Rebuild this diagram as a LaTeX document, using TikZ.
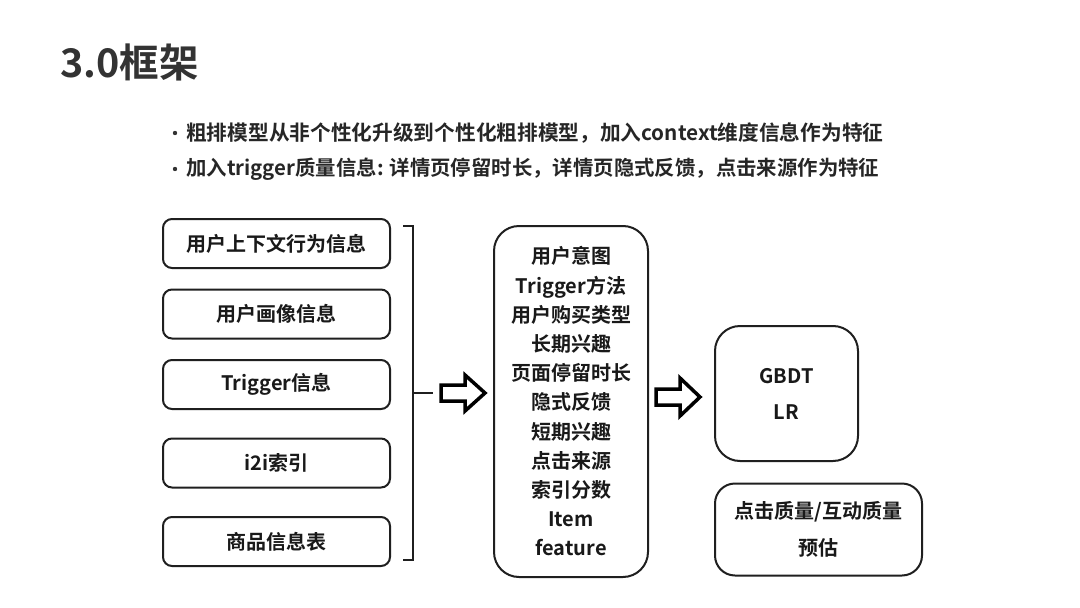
\documentclass[tikz,border=0pt]{standalone}
\usepackage{fontspec}
\setmainfont{Noto Sans CJK SC}[BoldFont=* Bold]
\begin{document}
\begin{tikzpicture}[x=1pt,y=-1pt,
  box/.style={draw=black!88, line width=2pt, rounded corners=9pt, minimum width=227pt, minimum height=49pt, inner sep=0pt, font=\fontsize{20}{24}\selectfont\bfseries, text=black!90},
  bigbox/.style={draw=black!88, line width=2pt, rounded corners=25pt, inner sep=0pt, align=center, text=black!90},
  hollow/.style={draw=black, line width=3.5pt, miter limit=10, fill=white},
  brk/.style={draw=black!88, line width=2pt}]
\useasboundingbox (0,0) rectangle (1080,608);
\fill[white] (0,0) rectangle (1080,608);
% title
\node[anchor=west, inner sep=0pt, text=black!80, font=\fontsize{39.5}{42}\selectfont\bfseries] (title) at (60,62) {3.0框架};
% bullets
\fill[black!80] (175,133) circle (2.2pt);
\fill[black!80] (175,169) circle (2.2pt);
\node[anchor=west, inner sep=0pt, text=black!85, font=\fontsize{20.7}{24}\selectfont\bfseries] (b1) at (186,133) {粗排模型从非个性化升级到个性化粗排模型，加入context维度信息作为特征};
\node[anchor=west, inner sep=0pt, text=black!85, font=\fontsize{20.4}{24}\selectfont\bfseries] (b2) at (186,169) {加入trigger质量信息: 详情页停留时长，详情页隐式反馈，点击来源作为特征};
% left boxes
\node[box] (l1) at (276.5,243.5) {用户上下文行为信息};
\node[box] (l2) at (276.5,314) {用户画像信息};
\node[box] (l3) at (276.5,384.5) {Trigger信息};
\node[box] (l4) at (276.5,463) {i2i索引};
\node[box] (l5) at (276.5,541.5) {商品信息表};
% bracket
\coordinate (bt) at (413,226);
\coordinate (bb) at (413,560);
\coordinate (bm) at (413,393);
\coordinate (bo) at (433,393);
\draw[brk] (403,226) -- (bt) -- (bb) -- (403,560);
\draw[brk] (bm) -- (bo);
% middle box
\node[bigbox, minimum width=154pt, minimum height=351pt, font=\fontsize{20}{29.2}\selectfont\bfseries] (mid) at (571,401.5)
  {用户意图\\Trigger方法\\用户购买类型\\长期兴趣\\页面停留时长\\隐式反馈\\短期兴趣\\点击来源\\索引分数\\Item\\feature};
% arrows
\draw[hollow] (441,385) -- (465,385) -- (465,375) -- (485,393) -- (465,411) -- (465,401) -- (441,401) -- cycle;
\draw[hollow] (656,389) -- (680,389) -- (680,378) -- (700,397) -- (680,416) -- (680,405) -- (656,405) -- cycle;
% right boxes
\node[bigbox, minimum width=143pt, minimum height=135pt, font=\fontsize{20}{36}\selectfont\bfseries] (gb) at (786.5,393.5) {GBDT\\LR};
\node[bigbox, rounded corners=20pt, minimum width=207pt, minimum height=92pt, font=\fontsize{20}{37}\selectfont\bfseries] (pq) at (818.5,529.5) {点击质量/互动质量\\预估};
\end{tikzpicture}
\end{document}
